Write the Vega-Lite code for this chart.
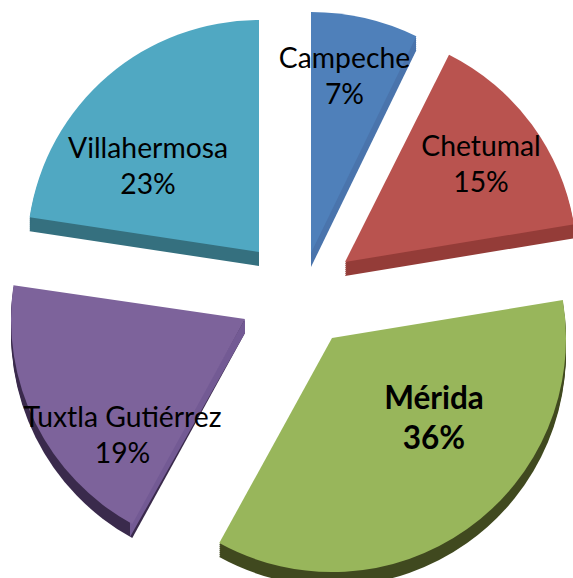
{"$schema":"https://vega.github.io/schema/vega-lite/v6.json","autosize":{"type":"none"},"width":573,"height":578,"padding":0,"background":"white","view":{"stroke":null},
"datasets":{"slices":[
{"city":"Campeche","start":0,"end":7.2,"cx":11,"cy":42,"r":241},
{"city":"Chetumal","start":7.4,"end":22.4,"cx":45,"cy":33,"r":232},
{"city":"Mérida","start":22.4,"end":58,"cx":32,"cy":-43,"r":234},
{"city":"Tuxtla Gutiérrez","start":58,"end":77.3,"cx":-55,"cy":-24,"r":234},
{"city":"Villahermosa","start":77.4,"end":100,"cx":-41,"cy":43,"r":232}],
"edges":[
{"city":"Campeche","ex":11,"top":42,"bottom":42},
{"city":"Campeche","ex":116,"top":259,"bottom":245},
{"city":"Tuxtla Gutiérrez","ex":-55,"top":-24,"bottom":-38},
{"city":"Tuxtla Gutiérrez","ex":-170,"top":-228,"bottom":-242}],
"labels":[
{"city":"Campeche","text":"Campeche\n7%","lx":44.5,"ly":235},
{"city":"Chetumal","text":"Chetumal\n15%","lx":181,"ly":147},
{"city":"Tuxtla Gutiérrez","text":"Tuxtla Gutiérrez\n19%","lx":-177.5,"ly":-124},
{"city":"Villahermosa","text":"Villahermosa\n23%","lx":-152,"ly":145}],
"bold":[{"city":"Mérida","text":"Mérida\n36%","lx":134,"ly":-105}]},
"encoding":{
"x":{"field":"cx","type":"quantitative","axis":null,"scale":{"domain":[-300,273],"nice":false,"zero":false}},
"y":{"field":"cy","type":"quantitative","axis":null,"scale":{"domain":[-283,295],"nice":false,"zero":false}}},
"resolve":{"scale":{"color":"independent"}},
"layer":[
{"data":{"name":"slices"},"mark":{"type":"arc","yOffset":2},"encoding":{"theta":{"field":"start","type":"quantitative","scale":{"domain":[0,100],"range":[0,6.28319]}},"theta2":{"field":"end"},"radius":{"field":"r","type":"quantitative","scale":{"type":"linear","domain":[0,300],"range":[0,300]}},"color":{"field":"city","type":"nominal","legend":null,"scale":{"domain":["Campeche","Chetumal","Mérida","Tuxtla Gutiérrez","Villahermosa"],"range":["#4a74ac","#943c38","#40491f","#3a2a4c","#35707f"]}}}},
{"data":{"name":"slices"},"mark":{"type":"arc","yOffset":4},"encoding":{"theta":{"field":"start","type":"quantitative","scale":{"domain":[0,100],"range":[0,6.28319]}},"theta2":{"field":"end"},"radius":{"field":"r","type":"quantitative","scale":{"type":"linear","domain":[0,300],"range":[0,300]}},"color":{"field":"city","type":"nominal","legend":null,"scale":{"domain":["Campeche","Chetumal","Mérida","Tuxtla Gutiérrez","Villahermosa"],"range":["#4a74ac","#943c38","#40491f","#3a2a4c","#35707f"]}}}},
{"data":{"name":"slices"},"mark":{"type":"arc","yOffset":6},"encoding":{"theta":{"field":"start","type":"quantitative","scale":{"domain":[0,100],"range":[0,6.28319]}},"theta2":{"field":"end"},"radius":{"field":"r","type":"quantitative","scale":{"type":"linear","domain":[0,300],"range":[0,300]}},"color":{"field":"city","type":"nominal","legend":null,"scale":{"domain":["Campeche","Chetumal","Mérida","Tuxtla Gutiérrez","Villahermosa"],"range":["#4a74ac","#943c38","#40491f","#3a2a4c","#35707f"]}}}},
{"data":{"name":"slices"},"mark":{"type":"arc","yOffset":8},"encoding":{"theta":{"field":"start","type":"quantitative","scale":{"domain":[0,100],"range":[0,6.28319]}},"theta2":{"field":"end"},"radius":{"field":"r","type":"quantitative","scale":{"type":"linear","domain":[0,300],"range":[0,300]}},"color":{"field":"city","type":"nominal","legend":null,"scale":{"domain":["Campeche","Chetumal","Mérida","Tuxtla Gutiérrez","Villahermosa"],"range":["#4a74ac","#943c38","#40491f","#3a2a4c","#35707f"]}}}},
{"data":{"name":"slices"},"mark":{"type":"arc","yOffset":10},"encoding":{"theta":{"field":"start","type":"quantitative","scale":{"domain":[0,100],"range":[0,6.28319]}},"theta2":{"field":"end"},"radius":{"field":"r","type":"quantitative","scale":{"type":"linear","domain":[0,300],"range":[0,300]}},"color":{"field":"city","type":"nominal","legend":null,"scale":{"domain":["Campeche","Chetumal","Mérida","Tuxtla Gutiérrez","Villahermosa"],"range":["#4a74ac","#943c38","#40491f","#3a2a4c","#35707f"]}}}},
{"data":{"name":"slices"},"mark":{"type":"arc","yOffset":12},"encoding":{"theta":{"field":"start","type":"quantitative","scale":{"domain":[0,100],"range":[0,6.28319]}},"theta2":{"field":"end"},"radius":{"field":"r","type":"quantitative","scale":{"type":"linear","domain":[0,300],"range":[0,300]}},"color":{"field":"city","type":"nominal","legend":null,"scale":{"domain":["Campeche","Chetumal","Mérida","Tuxtla Gutiérrez","Villahermosa"],"range":["#4a74ac","#943c38","#40491f","#3a2a4c","#35707f"]}}}},
{"data":{"name":"slices"},"mark":{"type":"arc","yOffset":14},"encoding":{"theta":{"field":"start","type":"quantitative","scale":{"domain":[0,100],"range":[0,6.28319]}},"theta2":{"field":"end"},"radius":{"field":"r","type":"quantitative","scale":{"type":"linear","domain":[0,300],"range":[0,300]}},"color":{"field":"city","type":"nominal","legend":null,"scale":{"domain":["Campeche","Chetumal","Mérida","Tuxtla Gutiérrez","Villahermosa"],"range":["#4a74ac","#943c38","#40491f","#3a2a4c","#35707f"]}}}},
{"data":{"name":"edges"},"mark":{"type":"area"},"encoding":{"x":{"field":"ex","type":"quantitative"},"y":{"field":"bottom","type":"quantitative"},"y2":{"field":"top"},"color":{"field":"city","type":"nominal","legend":null,"scale":{"domain":["Campeche","Tuxtla Gutiérrez"],"range":["#4a74ac","#735a94"]}}}},
{"data":{"name":"slices"},"mark":{"type":"arc"},"encoding":{"theta":{"field":"start","type":"quantitative","scale":{"domain":[0,100],"range":[0,6.28319]}},"theta2":{"field":"end"},"radius":{"field":"r","type":"quantitative","scale":{"type":"linear","domain":[0,300],"range":[0,300]}},"color":{"field":"city","type":"nominal","legend":null,"scale":{"domain":["Campeche","Chetumal","Mérida","Tuxtla Gutiérrez","Villahermosa"],"range":["#4f80ba","#b9534f","#98b65b","#7d639b","#50a8c2"]}}}},
{"data":{"name":"labels"},"mark":{"type":"text","font":"Lato","fontSize":28.3,"lineBreak":"\n","lineHeight":36,"align":"center","baseline":"middle","color":"black"},"encoding":{"x":{"field":"lx","type":"quantitative"},"y":{"field":"ly","type":"quantitative"},"text":{"field":"text"}}},
{"data":{"name":"bold"},"mark":{"type":"text","font":"Lato","fontSize":31.5,"fontWeight":"bold","lineBreak":"\n","lineHeight":40,"align":"center","baseline":"middle","color":"black"},"encoding":{"x":{"field":"lx","type":"quantitative"},"y":{"field":"ly","type":"quantitative"},"text":{"field":"text"}}}
]}
